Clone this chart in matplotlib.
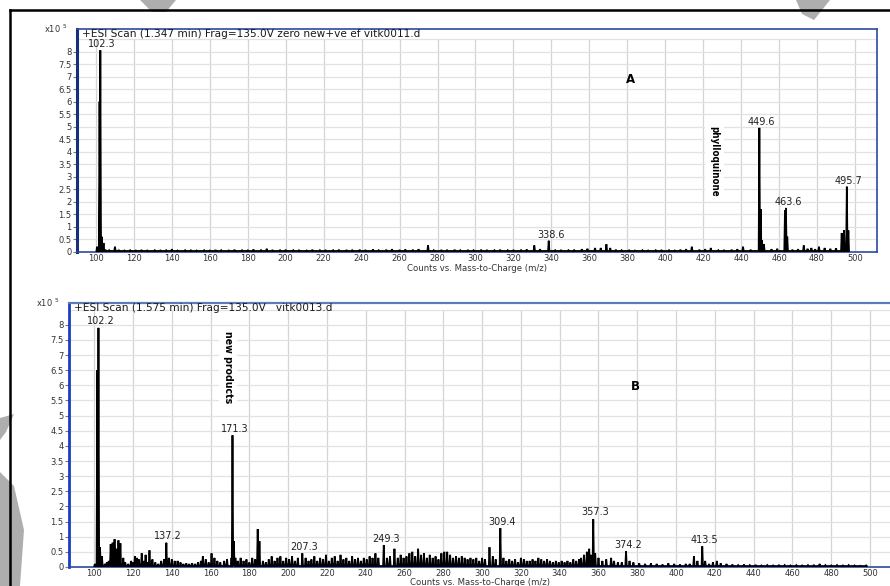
import matplotlib
matplotlib.use("Agg")
import matplotlib.pyplot as plt
from matplotlib.lines import Line2D
from matplotlib.patches import Polygon

# ---- scan A (vitk0011.d): labelled and major peaks, intensities in units of 1e5 counts
mz_a = [100.6, 101.9, 102.3, 103.0, 104.0, 110.0, 275.0, 331.0, 338.6, 363.0, 366.0, 369.0, 371.0,
        414.0, 424.0, 441.0, 449.6, 450.3, 451.0, 452.0, 463.1, 463.6, 464.3, 473.0, 477.0, 481.0,
        493.0, 494.2, 495.7, 496.5]
int_a = [0.2, 6.0, 8.05, 0.6, 0.35, 0.2, 0.25, 0.25, 0.44, 0.15, 0.15, 0.3, 0.15,
         0.2, 0.15, 0.2, 4.95, 1.7, 0.45, 0.3, 1.65, 1.75, 0.6, 0.25, 0.15, 0.2,
         0.75, 0.85, 2.6, 0.85]
# small background signals of scan A
noise_mz_a = [105, 107, 112, 115, 118, 121, 124, 127, 131, 134, 137, 140, 143, 147, 150, 153, 157, 160,
              163, 166, 170, 173, 177, 180, 183, 187, 190, 193, 197, 200, 204, 207, 211, 214, 218, 221,
              225, 228, 232, 235, 239, 242, 246, 249, 253, 256, 260, 263, 267, 270, 278, 282, 285, 289,
              292, 296, 299, 303, 306, 310, 313, 317, 320, 324, 327, 334, 342, 345, 349, 352, 356, 359,
              374, 377, 381, 384, 388, 391, 395, 398, 402, 405, 408, 411, 418, 421, 428, 431, 435, 438,
              445, 456, 459, 467, 470, 475, 479, 484, 487, 490]
noise_int_a = [0.08, 0.06, 0.07, 0.05, 0.06, 0.05, 0.07, 0.05, 0.06, 0.05, 0.06, 0.1, 0.05, 0.06, 0.07,
               0.05, 0.06, 0.05, 0.07, 0.06, 0.05, 0.08, 0.06, 0.07, 0.09, 0.08, 0.12, 0.07, 0.06, 0.08,
               0.06, 0.07, 0.05, 0.08, 0.06, 0.07, 0.06, 0.08, 0.07, 0.06, 0.08, 0.07, 0.09, 0.06, 0.08,
               0.1, 0.07, 0.09, 0.08, 0.1, 0.06, 0.07, 0.06, 0.08, 0.06, 0.07, 0.06, 0.08, 0.07, 0.06,
               0.08, 0.06, 0.07, 0.08, 0.09, 0.1, 0.06, 0.07, 0.06, 0.08, 0.1, 0.12, 0.08, 0.06, 0.07,
               0.05, 0.06, 0.05, 0.06, 0.07, 0.06, 0.05, 0.08, 0.1, 0.08, 0.1, 0.06, 0.07, 0.08, 0.1,
               0.08, 0.1, 0.12, 0.08, 0.1, 0.12, 0.1, 0.15, 0.12, 0.14]
labels_a = [102.3, 338.6, 449.6, 463.6, 495.7]

# ---- scan B (vitk0013.d)
mz_b = [100.4, 101.6, 102.2, 103.0, 104.0, 108.5, 109.5, 110.5, 111.5, 112.5, 113.5, 121.0, 123.0,
        124.5, 126.5, 128.5, 137.2, 156.0, 160.5, 170.8, 171.3, 172.0, 172.8, 184.3, 185.2, 207.3,
        249.3, 254.8, 303.8, 309.4, 352.5, 355.2, 357.3, 358.3, 374.2, 409.2, 413.5]
int_b = [0.1, 6.5, 7.9, 0.65, 0.35, 0.75, 0.8, 0.92, 0.6, 0.88, 0.78, 0.35, 0.25,
         0.45, 0.4, 0.55, 0.8, 0.35, 0.45, 0.3, 4.35, 0.85, 0.3, 1.25, 0.85, 0.45,
         0.72, 0.6, 0.65, 1.28, 0.4, 0.6, 1.58, 0.45, 0.52, 0.35, 0.68]
noise_mz_b = [105.5, 106.5, 107.5, 115, 116, 117.5, 119, 120, 122, 125.5, 127.5, 130, 131.5, 133, 134.5,
              136, 138.5, 140, 141.5, 143, 144.5, 146, 147.5, 149, 150.5, 152, 153.5, 155, 157.5, 159,
              162, 163.5, 165, 167, 168.5, 174, 175.5, 177, 178.5, 180, 181.5, 183, 187, 188.5, 190,
              191.5, 193, 194.5, 196, 197.5, 199, 200.5, 202, 203.5, 205, 209, 210.5, 212, 213.5, 215,
              216.5, 218, 219.5, 221, 222.5, 224, 225.5, 227, 228.5, 230, 231.5, 233, 234.5, 236, 237.5,
              239, 240.5, 242, 243.5, 245, 246.5, 251, 252.5, 256.5, 258, 259.5, 261, 262.5, 264, 265.5,
              267, 268.5, 270, 271.5, 273, 274.5, 276, 277.5, 279, 280.5, 282, 283.5, 285, 286.5, 288,
              289.5, 291, 292.5, 294, 295.5, 297, 298.5, 300, 301.5, 305.5, 307, 311, 312.5, 314, 315.5,
              317, 318.5, 320, 321.5, 323, 324.5, 326, 327.5, 329, 330.5, 332, 333.5, 335, 336.5, 338,
              339.5, 341, 342.5, 344, 345.5, 347, 348.5, 350, 351, 354, 356, 360, 362, 364, 366.5, 368,
              370, 372, 376, 378, 381, 384, 387, 390, 393, 396, 399, 402, 405, 407, 411, 415, 417, 419,
              421, 423, 426, 429, 432, 435, 438, 441, 444, 447, 450, 453, 456, 459, 462, 465, 468, 471,
              474, 477, 480, 483, 486, 489, 492, 495, 498]
noise_int_b = [0.1, 0.15, 0.2, 0.3, 0.15, 0.1, 0.2, 0.15, 0.3, 0.2, 0.15, 0.25, 0.15, 0.1, 0.2,
               0.25, 0.3, 0.25, 0.2, 0.2, 0.15, 0.1, 0.12, 0.1, 0.12, 0.1, 0.15, 0.2, 0.25, 0.15,
               0.3, 0.2, 0.15, 0.2, 0.25, 0.2, 0.3, 0.2, 0.25, 0.15, 0.3, 0.25, 0.2, 0.15, 0.25,
               0.35, 0.2, 0.3, 0.35, 0.2, 0.3, 0.25, 0.35, 0.2, 0.3, 0.3, 0.2, 0.25, 0.35, 0.2,
               0.3, 0.25, 0.4, 0.2, 0.3, 0.35, 0.2, 0.4, 0.25, 0.3, 0.2, 0.35, 0.25, 0.3, 0.2,
               0.3, 0.25, 0.35, 0.3, 0.45, 0.3, 0.3, 0.35, 0.3, 0.4, 0.3, 0.35, 0.45, 0.5, 0.35,
               0.6, 0.4, 0.45, 0.3, 0.4, 0.3, 0.35, 0.25, 0.45, 0.5, 0.5, 0.4, 0.3, 0.35, 0.3,
               0.35, 0.3, 0.25, 0.3, 0.25, 0.3, 0.2, 0.3, 0.25, 0.35, 0.25, 0.3, 0.2, 0.25, 0.2,
               0.25, 0.15, 0.3, 0.25, 0.2, 0.2, 0.25, 0.2, 0.3, 0.25, 0.2, 0.25, 0.2, 0.15, 0.2,
               0.15, 0.2, 0.15, 0.2, 0.15, 0.25, 0.2, 0.25, 0.3, 0.5, 0.4, 0.3, 0.2, 0.25, 0.3, 0.2,
               0.15, 0.15, 0.2, 0.15, 0.12, 0.1, 0.12, 0.1, 0.08, 0.12, 0.1, 0.08, 0.1, 0.1, 0.2, 0.2,
               0.1, 0.15, 0.2, 0.12, 0.1, 0.08, 0.06, 0.08, 0.06, 0.07, 0.05, 0.06, 0.05, 0.07, 0.06,
               0.05, 0.06, 0.05, 0.06, 0.07, 0.1, 0.06, 0.05, 0.06, 0.05, 0.06, 0.05, 0.04, 0.05]
labels_b = [102.2, 137.2, 171.3, 207.3, 249.3, 309.4, 357.3, 374.2, 413.5]

baseline = 0.03
yticks = [0, 0.5, 1, 1.5, 2, 2.5, 3, 3.5, 4, 4.5, 5, 5.5, 6, 6.5, 7, 7.5, 8]
xticks = [100, 120, 140, 160, 180, 200, 220, 240, 260, 280, 300, 320, 340, 360, 380, 400, 420, 440,
          460, 480, 500]

title_a = "+ESI Scan (1.347 min) Frag=135.0V zero new+ve ef vitk0011.d"
title_b = "+ESI Scan (1.575 min) Frag=135.0V   vitk0013.d"
xlabel = "Counts vs. Mass-to-Charge (m/z)"

plt.rcParams['font.family'] = ['DejaVu Sans']


def profile(mz, inten):
    # turn each centroid into a narrow triangle so the trace looks like a profile scan
    pts = sorted(zip(mz, inten))
    xs, ys = [], []
    for m, h in pts:
        xs += [m - 0.35, m, m + 0.35]
        ys += [baseline, h, baseline]
    return xs, ys


def draw_panel(ax, mz, inten, nmz, nint, labels, title, xlim, ylim, letter, letter_xy, note, note_xy,
               note_size, xlabel_pad):
    ax.set_xlim(*xlim)
    ax.set_ylim(*ylim)
    for x in xticks:
        ax.plot([x, x], [0, 8.45], color='#d4d4d4', lw=0.9, zorder=0)
    for y in yticks[1:] + [8.5]:
        ax.plot([xlim[0], xlim[1]], [y, y], color='#e2e2e2', lw=0.9, zorder=0)

    xs, ys = profile(list(mz) + list(nmz), list(inten) + list(nint))
    ax.plot(xs, ys, color='black', lw=1.3, zorder=3, solid_joinstyle='miter')

    lookup = dict(zip(mz, inten))
    for lab in labels:
        ax.text(lab + 1.0, lookup[lab] + 0.12, f"{lab:.1f}", ha='center', va='baseline',
                fontsize=7.0, color='#222222', zorder=4)

    ax.text(0.006, 0.999, title, transform=ax.transAxes, ha='left', va='top', fontsize=7.6,
            color='#1a1a1a')
    ax.text(letter_xy[0], letter_xy[1], letter, fontsize=8.5, fontweight='bold', ha='center',
            va='center')
    ax.text(note_xy[0], note_xy[1], note, rotation=270, fontsize=note_size, fontweight='bold',
            fontstretch='condensed', ha='center', va='center', zorder=5,
            bbox=dict(facecolor='white', edgecolor='none', pad=3))

    ax.set_xticks(xticks)
    ax.set_yticks(yticks)
    ax.set_yticklabels([f"{v:g}" for v in yticks])
    ax.tick_params(axis='x', length=0, pad=1.5, labelsize=6, labelcolor='#333333')
    ax.tick_params(axis='y', length=3, width=0.8, color='#777777', pad=1, labelsize=6,
                   labelcolor='#333333')
    ax.set_xlabel(xlabel, fontsize=6.1, color='#333333', labelpad=xlabel_pad)
    ax.text(-0.012, 1.0, r"x10 $^5$", transform=ax.transAxes, ha='right', va='center', fontsize=6,
            color='#333333')


fig = plt.figure(figsize=(8.9, 5.86), dpi=100)

ax_a = fig.add_axes([0.0865, 0.5700, 0.8989, 0.3805])
draw_panel(ax_a, mz_a, int_a, noise_mz_a, noise_int_a, labels_a, title_a, (90, 511.6), (-0.01, 8.9),
           "A", (381.5, 6.9), "phylloquinone", (426.0, 3.6), 7.0, 0.5)
for side in ['top', 'right', 'bottom']:
    ax_a.spines[side].set_color('#2b4aa0')
    ax_a.spines[side].set_linewidth(1.2)
ax_a.spines['left'].set_color('#17307e')
ax_a.spines['left'].set_linewidth(2.2)

ax_b = fig.add_axes([0.0775, 0.0320, 0.9247, 0.4514])
draw_panel(ax_b, mz_b, int_b, noise_mz_b, noise_int_b, labels_b, title_b, (87, 511.3), (-0.01, 8.73),
           "B", (379.0, 5.95), "new products", (168.8, 6.6), 7.6, 0.0)
ax_b.spines['top'].set_color('#5b7cb8')
ax_b.spines['top'].set_linewidth(1.6)
ax_b.spines['bottom'].set_color('#2b4aa0')
ax_b.spines['bottom'].set_linewidth(1.2)
ax_b.spines['right'].set_visible(False)
ax_b.spines['left'].set_color('#1740c0')
ax_b.spines['left'].set_linewidth(2.0)

# outer frame of the figure page
W, H = 890.0, 586.0
fig.add_artist(Line2D([10 / W, 1.0], [1 - 10 / H, 1 - 10 / H], color='black', lw=1.8))
fig.add_artist(Line2D([10 / W, 10 / W], [0.0, 1 - 10 / H], color='black', lw=1.8))

# faint grey marks along the page edges
shapes = [
    [(140, 0), (176, 0), (166, 12), (152, 12)],
    [(796, 0), (830, 0), (814, 20), (802, 14)],
    [(0, 418), (14, 414), (6, 432), (0, 440)],
    [(0, 472), (14, 486), (24, 530), (20, 586), (0, 586)],
]
for pts in shapes:
    fig.add_artist(Polygon([(x / W, 1 - y / H) for x, y in pts], closed=True,
                           transform=fig.transFigure, facecolor='#9a9a9a', edgecolor='none',
                           alpha=0.8))

fig.savefig("out.png", dpi=100)
